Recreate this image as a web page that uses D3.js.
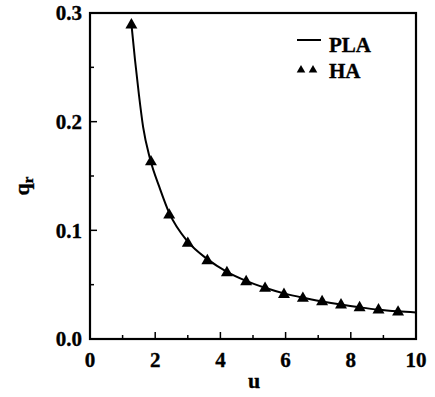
<!DOCTYPE html>
<html><head><meta charset="utf-8">
<script src="https://cdn.jsdelivr.net/npm/d3@7"></script>
<style>body{margin:0;background:#fff}svg{display:block}text{font-family:"Liberation Serif","Times New Roman",serif;font-weight:bold;fill:#000;stroke:#000;stroke-width:0.35px}</style>
</head><body>
<script>
// HA (triangles)
const uHA = [1.27, 1.87, 2.43, 3.0, 3.6, 4.2, 4.79, 5.37, 5.95, 6.53, 7.12, 7.7, 8.27, 8.85, 9.45];
const qHA = [0.289, 0.163, 0.114, 0.088, 0.072, 0.061, 0.0527, 0.0466, 0.041, 0.0374, 0.0343, 0.0313, 0.0288, 0.0267, 0.0248];
// PLA (line)
const uPLA = [1.26, 1.38, 1.5, 1.63, 1.84, 2.15, 2.43, 3.0, 3.6, 4.2, 4.79, 5.37, 5.95, 6.53, 7.12, 7.7, 8.27, 8.85, 9.45, 10];
const qPLA = [0.293, 0.257, 0.225, 0.195, 0.166, 0.138, 0.116, 0.0895, 0.0735, 0.0618, 0.0535, 0.0472, 0.042, 0.038, 0.0346, 0.0317, 0.0292, 0.027, 0.0255, 0.0245];
const xMajor = [0, 2, 4, 6, 8, 10];
const xMinor = [1, 3, 5, 7, 9];
const yMajor = [0.0, 0.1, 0.2, 0.3];
const yMinor = [0.05, 0.15, 0.25];

const W = 435, H = 397;
const svg = d3.select("body").append("svg").attr("width", W).attr("height", H);
const x = d3.scaleLinear().domain([0, 10]).range([90, 416]);
const y = d3.scaleLinear().domain([0, 0.3]).range([339, 13]);

// ticks (inward)
const g = svg.append("g").attr("stroke", "#000").attr("stroke-width", 1.5);
xMajor.forEach(v => g.append("line").attr("x1", x(v)).attr("x2", x(v)).attr("y1", y(0)).attr("y2", y(0) - 7));
xMinor.forEach(v => g.append("line").attr("x1", x(v)).attr("x2", x(v)).attr("y1", y(0)).attr("y2", y(0) - 4));
yMajor.forEach(v => g.append("line").attr("x1", x(0)).attr("x2", x(0) + 7).attr("y1", y(v)).attr("y2", y(v)));
yMinor.forEach(v => g.append("line").attr("x1", x(0)).attr("x2", x(0) + 4).attr("y1", y(v)).attr("y2", y(v)));

// frame
svg.append("rect").attr("x", x(0)).attr("y", y(0.3)).attr("width", x(10) - x(0)).attr("height", y(0) - y(0.3))
  .attr("fill", "none").attr("stroke", "#000").attr("stroke-width", 2.2);

// tick labels
svg.selectAll(".xl").data(xMajor).enter().append("text")
  .attr("x", d => x(d)).attr("y", 367).attr("text-anchor", "middle").attr("font-size", 21).text(d => d);
svg.selectAll(".yl").data(yMajor).enter().append("text")
  .attr("x", 82).attr("y", d => y(d)).attr("dy", "0.35em").attr("text-anchor", "end").attr("font-size", 21).text(d => d.toFixed(1));

// axis titles
svg.append("text").attr("x", 254).attr("y", 388).attr("text-anchor", "middle").attr("font-size", 22).text("u");
const yt = svg.append("text").attr("transform", "translate(29,186) rotate(-90)").attr("text-anchor", "middle").attr("font-size", 22);
yt.append("tspan").text("q");
yt.append("tspan").attr("dy", 4).attr("font-size", 15).text("r");

// PLA line
const pts = uPLA.map((u, i) => [u, qPLA[i]]);
svg.append("path").datum(pts)
  .attr("d", d3.line().x(d => x(d[0])).y(d => y(d[1])).curve(d3.curveMonotoneX))
  .attr("fill", "none").attr("stroke", "#000").attr("stroke-width", 2);

// HA triangles
const tri = d3.symbol().type(d3.symbolTriangle).size(62);
svg.selectAll(".tri").data(uHA.map((u, i) => [u, qHA[i]])).enter().append("path")
  .attr("d", tri).attr("transform", d => `translate(${x(d[0])},${y(d[1])})`).attr("fill", "#000");

// legend
svg.append("line").attr("x1", 297).attr("x2", 321).attr("y1", 40).attr("y2", 40).attr("stroke", "#000").attr("stroke-width", 2);
svg.append("text").attr("x", 329).attr("y", 52).attr("font-size", 21).text("PLA");
const triS = d3.symbol().type(d3.symbolTriangle).size(32);
[301, 313].forEach(cx => svg.append("path").attr("d", triS).attr("transform", `translate(${cx},70)`).attr("fill", "#000"));
svg.append("text").attr("x", 329).attr("y", 78).attr("font-size", 21).text("HA");
</script>
</body></html>
